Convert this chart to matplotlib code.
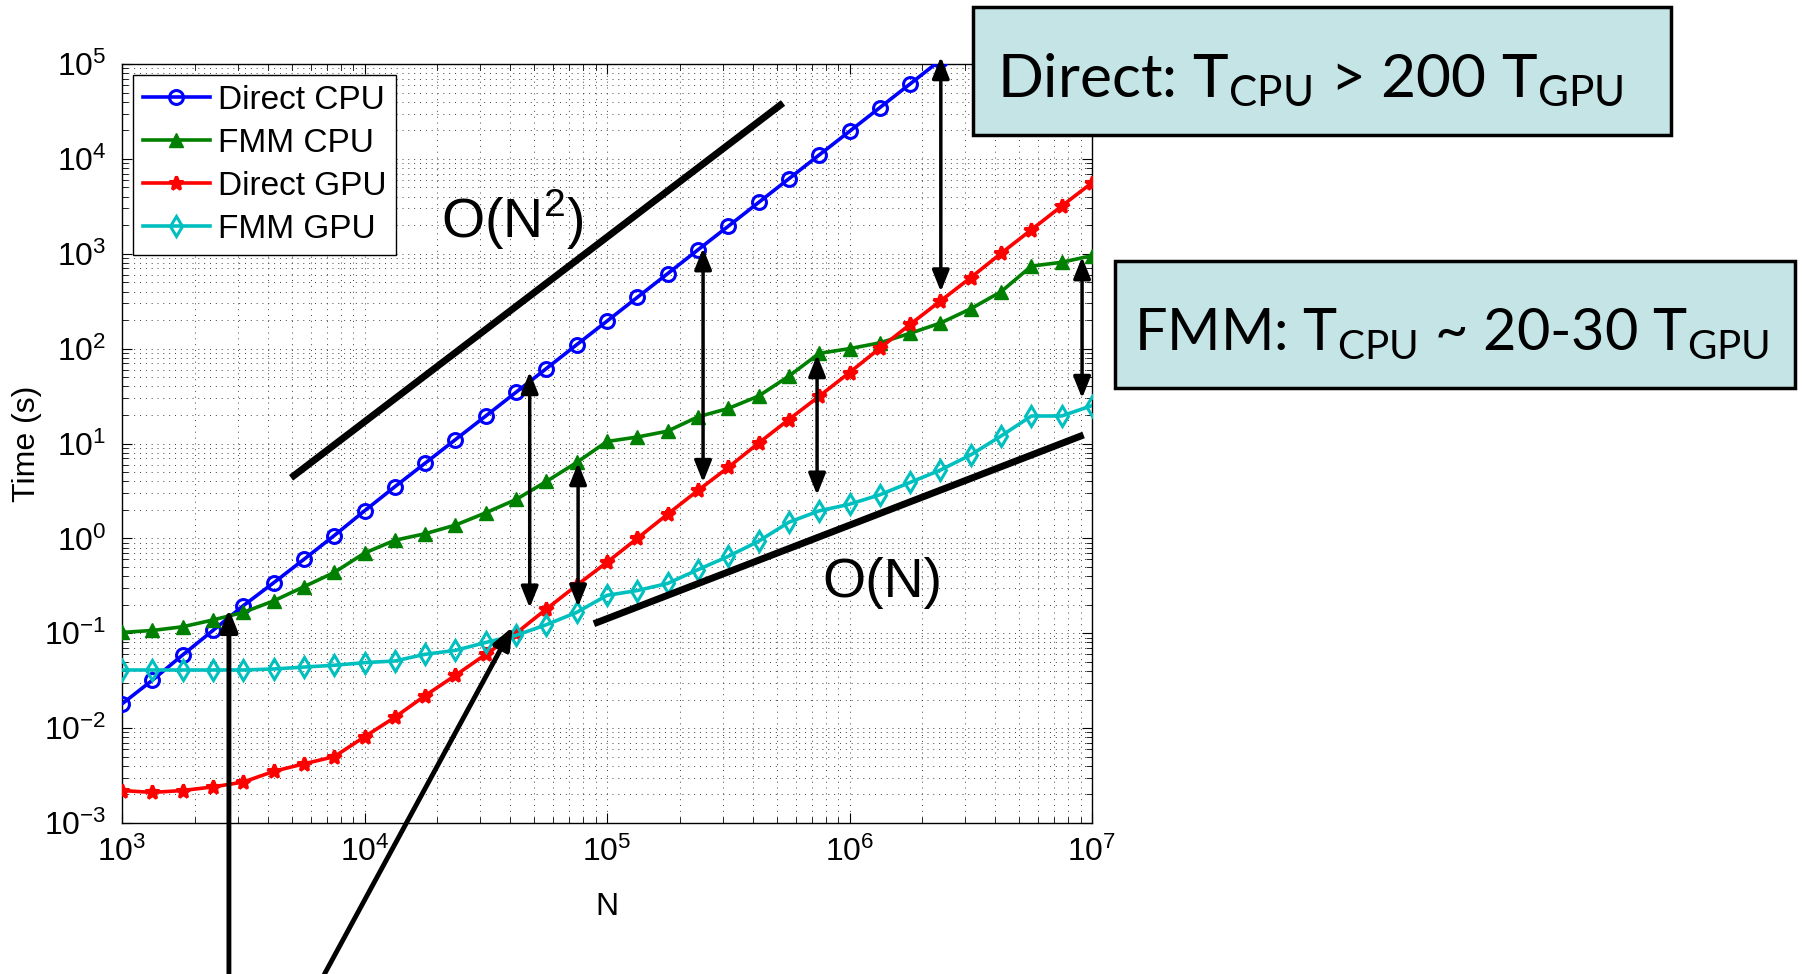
import matplotlib
matplotlib.use('Agg')
import matplotlib.pyplot as plt
from matplotlib.patches import Rectangle

plt.rcParams['font.family'] = ['Liberation Sans', 'DejaVu Sans']
plt.rcParams['mathtext.fontset'] = 'custom'
plt.rcParams['mathtext.rm'] = 'Liberation Sans'

# problem sizes (8 per decade)
N = [1000, 1334, 1778, 2371, 3162, 4217, 5623, 7499,
     10000, 13335, 17783, 23714, 31623, 42170, 56234, 74989,
     1e5, 1.3335e5, 1.7783e5, 2.3714e5, 3.1623e5, 4.217e5, 5.6234e5, 7.4989e5,
     1e6, 1.3335e6, 1.7783e6, 2.3714e6, 3.1623e6, 4.217e6, 5.6234e6, 7.4989e6,
     1e7]

# timings (s)
direct_cpu = [0.018, 0.032, 0.059, 0.107, 0.195, 0.34, 0.60, 1.07,
              1.95, 3.5, 6.2, 11.0, 19.5, 34.7, 61.7, 110,
              195, 347, 617, 1100, 1950, 3470, 6170, 11000,
              19500, 34700, 61700, 110000]
fmm_cpu = [0.102, 0.107, 0.117, 0.138, 0.166, 0.219, 0.309, 0.437,
           0.70, 0.955, 1.12, 1.38, 1.86, 2.57, 3.98, 6.31,
           10.5, 11.7, 13.5, 19.1, 23.4, 31.6, 51.3, 89.1,
           100, 115, 145, 186, 263, 398, 741, 813,
           955]
direct_gpu = [0.0022, 0.0021, 0.0022, 0.0024, 0.0027, 0.0035, 0.0042, 0.0050,
              0.0081, 0.013, 0.022, 0.036, 0.060, 0.10, 0.18, 0.32,
              0.56, 1.0, 1.8, 3.2, 5.6, 10.1, 17.9, 31.5,
              56, 101, 180, 318, 560, 1010, 1790, 3180,
              5600]
fmm_gpu = [0.041, 0.041, 0.041, 0.041, 0.041, 0.042, 0.044, 0.046,
           0.049, 0.051, 0.060, 0.066, 0.080, 0.095, 0.123, 0.166,
           0.251, 0.282, 0.335, 0.468, 0.646, 0.933, 1.48, 1.95,
           2.29, 2.88, 3.89, 5.25, 7.59, 12.0, 19.5, 19.5,
           25.1]

# scaling guide lines (N, T) end points
guide_n2_x = [4980, 5.32e5]
guide_n2_y = [4.35, 3.88e4]
guide_n1_x = [8.83e4, 9.23e6]
guide_n1_y = [0.126, 12.3]

# speed-up arrows: (N, lower T, upper T)
speedup_arrows = [(4.8e4, 0.185, 57), (7.6e4, 0.19, 6.25), (2.49e5, 3.9, 1150),
                  (7.35e5, 2.87, 86), (2.38e6, 398, 1.19e5), (9.1e6, 30, 925)]
# crossover arrows coming up from below: (tip N, tip T, tail N)
cross_arrows = [(2.76e3, 0.18, 2.76e3), (4.09e4, 0.117, 6.84e3)]

W, H = 1802, 974
fig = plt.figure(figsize=(W / 100, H / 100), dpi=100)
ax = fig.add_axes([122 / W, 1 - 823 / H, 970 / W, 759 / H])

ms, mew, lw = 10, 2.2, 2.6
ax.loglog(N[:len(direct_cpu)], direct_cpu, '-o', color='#0000FF', mfc='none',
          ms=ms, mew=mew, lw=lw, label='Direct CPU', zorder=3)
ax.loglog(N, fmm_cpu, '-^', color='#008000', ms=ms, mew=1, lw=lw,
          label='FMM CPU', zorder=3)
ax.loglog(N, direct_gpu, '-*', color='#FF0000', ms=ms, mew=mew, lw=lw,
          label='Direct GPU', zorder=3)
ax.loglog(N, fmm_gpu, '-d', color='#00BFBF', mfc='none', ms=ms, mew=mew, lw=lw,
          label='FMM GPU', zorder=3)

ax.set_xlim(1e3, 1e7)
ax.set_ylim(1e-3, 1e5)

ax.plot(guide_n2_x, guide_n2_y, 'k-', lw=5, solid_capstyle='butt', zorder=4)
ax.plot(guide_n1_x, guide_n1_y, 'k-', lw=5, solid_capstyle='butt', zorder=4)
ax.text(10 ** 4.608, 10 ** 3.356, r'O(N$^\mathregular{2}$)', fontsize=40,
        ha='center', va='center')
ax.text(10 ** 6.134, 10 ** -0.47, 'O(N)', fontsize=40, ha='center', va='center')

astyle = '<|-|>,head_length=0.65,head_width=0.26'
for n, lo, hi in speedup_arrows:
    ax.annotate('', xy=(n, lo), xytext=(n, hi),
                arrowprops=dict(arrowstyle=astyle, mutation_scale=20, lw=2.5,
                                color='k', shrinkA=0, shrinkB=0),
                annotation_clip=False, zorder=5)
for n, t, n0 in cross_arrows:
    ax.annotate('', xy=(n, t), xytext=(n0, 0), textcoords=('data', 'figure fraction'),
                arrowprops=dict(arrowstyle='-|>,head_length=0.65,head_width=0.26',
                                mutation_scale=20, lw=3.5, color='k',
                                shrinkA=0, shrinkB=0),
                annotation_clip=False, zorder=5)

ax.grid(True, which='both', linestyle=(0, (1, 5)), color='0.25', lw=0.7)
ax.tick_params(which='both', direction='in', top=True, right=True)
ax.tick_params(which='major', length=7, labelsize=23)
ax.tick_params(axis='x', which='major', pad=10)
ax.tick_params(axis='y', which='major', pad=11)
ax.tick_params(which='minor', length=4)
for s in ax.spines.values():
    s.set_linewidth(1.0)

ax.set_xlabel('N', fontsize=23, labelpad=17)
ax.set_ylabel('Time (s)', fontsize=23, labelpad=2)

leg = ax.legend(loc='upper left', bbox_to_anchor=(0.0113, 0.9855), borderaxespad=0,
                fontsize=24, fancybox=False, framealpha=1, edgecolor='k',
                handlelength=2.0, handletextpad=0.25, labelspacing=0.36,
                borderpad=0.3)
leg.get_frame().set_linewidth(1.0)

# comparison boxes
box_fc = '#C4E4E6'
fig.add_artist(Rectangle((973 / W, 1 - 135 / H), (1671 - 973) / W, (135 - 7) / H,
                         transform=fig.transFigure, fc=box_fc, ec='k', lw=2.5))
fig.text(997 / W, 1 - 97 / H, r'Direct: T$_\mathregular{CPU}$ > 200 T$_\mathregular{GPU}$',
         fontsize=43.5, family='Lato', ha='left', va='baseline')
fig.add_artist(Rectangle((1115 / W, 1 - 388 / H), (1795 - 1115) / W, (388 - 261) / H,
                         transform=fig.transFigure, fc=box_fc, ec='k', lw=2.5))
fig.text(1134 / W, 1 - 350 / H, r'FMM: T$_\mathregular{CPU}$ ~ 20-30 T$_\mathregular{GPU}$',
         fontsize=41.5, family='Lato', ha='left', va='baseline')

fig.savefig('out.png', dpi=100, facecolor='white')
